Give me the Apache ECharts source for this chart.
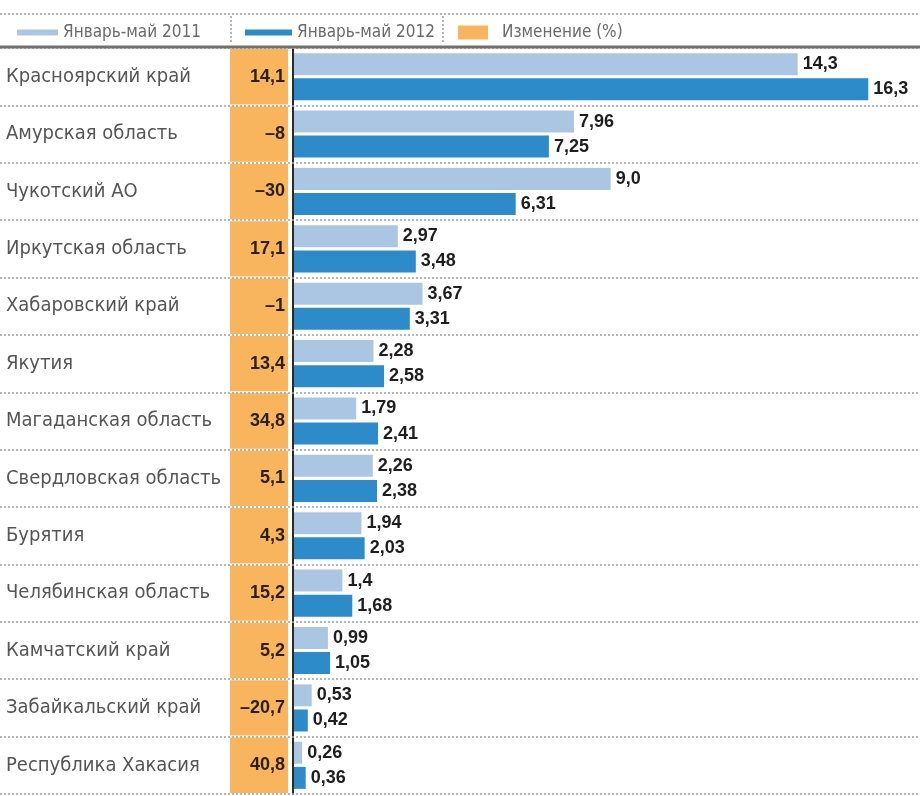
<!DOCTYPE html>
<html>
<head>
<meta charset="utf-8">
<script src="https://cdn.jsdelivr.net/npm/echarts@6/dist/echarts.min.js"></script>
<style>
html,body{margin:0;padding:0;background:#fff;}
#chart{width:920px;height:796px;}
</style>
</head>
<body>
<div id="chart"></div>
<script>
const categories = ['Красноярский край','Амурская область','Чукотский АО','Иркутская область','Хабаровский край','Якутия','Магаданская область','Свердловская область','Бурятия','Челябинская область','Камчатский край','Забайкальский край','Республика Хакасия'];
const jan2011 = ['14.3','7.96','9.0','2.97','3.67','2.28','1.79','2.26','1.94','1.4','0.99','0.53','0.26'];
const jan2012 = ['16.3','7.25','6.31','3.48','3.31','2.58','2.41','2.38','2.03','1.68','1.05','0.42','0.36'];
const changePct = [14.1,-8,-30,17.1,-1,13.4,34.8,5.1,4.3,15.2,5.2,-20.7,40.8];
const seriesNames = ['Январь-май 2011','Январь-май 2012','Изменение (%)'];

const NARROW = "'Liberation Sans Narrow','DejaVu Sans Condensed','Roboto Condensed','Liberation Sans',sans-serif";
const BOLD = "'Liberation Sans',Arial,sans-serif";
const fmt = v => String(v).replace('.', ',').replace('-', '\u2013');

const chart = echarts.init(document.getElementById('chart'));
const legendText = {color:'#6a6a6a', fontSize:17, fontFamily:NARROW, padding:[0,0,0,0]};
chart.setOption({
  animation:false,
  grid:[
    {left:293, top:48, width:600, height:746},
    {left:230, top:48, width:58, height:746},
    {left:0, right:0, top:48, height:746}
  ],
  xAxis:[
    {gridIndex:0, type:'value', min:0, max:17, show:false},
    {gridIndex:1, type:'value', min:0, max:1, show:false},
    {gridIndex:2, type:'value', min:0, max:1, show:false}
  ],
  yAxis:[
    {gridIndex:0, type:'category', data:categories, inverse:true, z:4,
     axisLine:{show:true, lineStyle:{color:'#2a2a2a', width:2}},
     axisTick:{show:false}, splitLine:{show:false},
     axisLabel:{align:'left', margin:287, color:'#555', fontSize:20, fontFamily:NARROW}},
    {gridIndex:1, type:'category', data:categories, inverse:true, show:false},
    {gridIndex:2, type:'category', data:categories, inverse:true, z:5,
     axisLine:{show:false}, axisTick:{show:false}, axisLabel:{show:false},
     splitLine:{show:true, lineStyle:{type:[2,2], color:'#a0a0a0', width:1.5}}}
  ],
  legend:[
    {data:[seriesNames[0]], left:12, top:19, icon:'rect', itemWidth:41, itemHeight:6, textStyle:legendText},
    {data:[seriesNames[1]], left:240, top:19, icon:'rect', itemWidth:47, itemHeight:6, textStyle:legendText},
    {data:[seriesNames[2]], left:453, top:19, icon:'rect', itemWidth:30, itemHeight:14, textStyle:Object.assign({}, legendText, {padding:[0,0,0,9]})}
  ],
  graphic:[
    {type:'line', shape:{x1:0,y1:14,x2:920,y2:14}, style:{stroke:'#a0a0a0', lineWidth:1.5, lineDash:[2,2]}},
    {type:'line', shape:{x1:231,y1:16,x2:231,y2:44}, style:{stroke:'#a0a0a0', lineWidth:1.5, lineDash:[2,2]}},
    {type:'line', shape:{x1:443,y1:16,x2:443,y2:44}, style:{stroke:'#a0a0a0', lineWidth:1.5, lineDash:[2,2]}},
    {type:'line', z:10, shape:{x1:0,y1:47,x2:920,y2:47}, style:{stroke:'#707070', lineWidth:3}}
  ],
  series:[
    {name:seriesNames[0], type:'bar', xAxisIndex:0, yAxisIndex:0, data:jan2011, barWidth:22, barGap:'14%',
     itemStyle:{color:'#abc6e3'},
     label:{show:true, position:'right', distance:5, formatter:p=>fmt(p.data), color:'#1e1e1e', fontWeight:'bold', fontSize:18, fontFamily:BOLD}},
    {name:seriesNames[1], type:'bar', xAxisIndex:0, yAxisIndex:0, data:jan2012, barWidth:22, barGap:'14%',
     itemStyle:{color:'#2e8bc9'},
     label:{show:true, position:'right', distance:5, formatter:p=>fmt(p.data), color:'#1e1e1e', fontWeight:'bold', fontSize:18, fontFamily:BOLD}},
    {name:seriesNames[2], type:'custom', xAxisIndex:1, yAxisIndex:1, z:1,
     itemStyle:{color:'#f8b55e'},
     data:changePct.map((v,i)=>[i,v]), encode:{y:0},
     renderItem:(params, api)=>{
       const i = api.value(0);
       const p0 = api.coord([0,i]);
       const p1 = api.coord([1,i]);
       const h = api.size([0,1])[1];
       return {type:'group', children:[
         {type:'rect', shape:{x:p0[0], y:p0[1]-h/2+1, width:p1[0]-p0[0], height:h-2}, style:{fill:'#f8b55e'}},
         {type:'text', style:{text:fmt(api.value(1)), x:p1[0]-3, y:p0[1], align:'right', verticalAlign:'middle',
           fill:'#2a1f10', font:"bold 18px 'Liberation Sans',Arial,sans-serif"}}
       ]};
     }}
  ]
});
</script>
</body>
</html>
